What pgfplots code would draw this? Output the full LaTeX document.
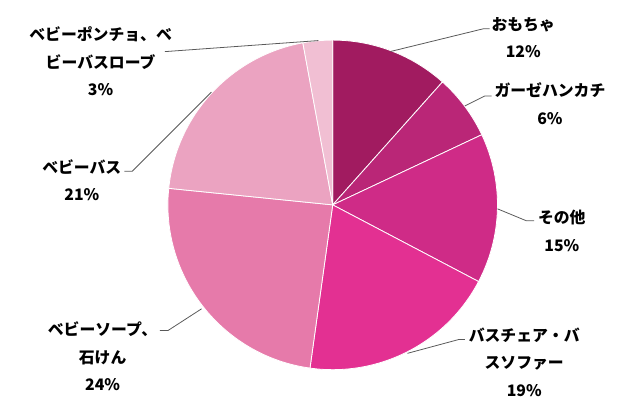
\documentclass[border=0pt]{standalone}
\usepackage{fontspec}
\usepackage{pgfplots}
\usepackage{pgfplotstable}
\pgfplotsset{compat=1.18}
\newfontfamily\jp{Noto Sans CJK JP}

\definecolor{c0}{HTML}{A11B60}
\definecolor{c1}{HTML}{BA2677}
\definecolor{c2}{HTML}{CF2B87}
\definecolor{c3}{HTML}{E33092}
\definecolor{c4}{HTML}{E67AAA}
\definecolor{c5}{HTML}{EBA3C1}
\definecolor{c6}{HTML}{F1BFD3}
\definecolor{leader}{HTML}{595959}

% share of each slice (%), clockwise from 12 o'clock
\pgfplotstableread{
value
11.6
6.4
14.7
19.5
24.4
20.5
2.9
}\piedata

\begin{document}
% start / end angle of each wedge
\xdef\cum{0}
\pgfplotsforeachungrouped \i in {0,...,6}{%
  \pgfplotstablegetelem{\i}{value}\of\piedata
  \pgfmathsetmacro\aS{90-3.6*\cum}%
  \pgfmathsetmacro\cumnew{\cum+\pgfplotsretval}%
  \pgfmathsetmacro\aE{90-3.6*\cumnew}%
  \expandafter\xdef\csname aS\i\endcsname{\aS}%
  \expandafter\xdef\csname aE\i\endcsname{\aE}%
  \xdef\cum{\cumnew}%
}
\begin{tikzpicture}[
  lbl/.style={align=center, font=\jp\bfseries\fontsize{16}{28}\selectfont, text=black},
  ldr/.style={leader, line width=0.8pt},
]
\begin{axis}[
  name=ax,
  hide axis,
  scale only axis,
  width=640pt, height=408pt,
  xmin=0, xmax=640, ymin=0, ymax=408,
  y dir=reverse,
  clip=false,
]
\pgfplotsinvokeforeach{0,...,6}{
  \filldraw[fill=c#1, draw=white, line width=0.8pt]
    (axis cs:329.5,207) -- ++(\csname aS#1\endcsname:166.5pt)
    arc[start angle=\csname aS#1\endcsname, end angle=\csname aE#1\endcsname, radius=166.5pt] -- cycle;
}
% leader lines
\draw[ldr] (axis cs:388,52) -- (axis cs:482,29) -- (axis cs:488,29);
\draw[ldr] (axis cs:463,107) -- (axis cs:483,97) -- (axis cs:490,97);
\draw[ldr] (axis cs:496,211) -- (axis cs:525,223) -- (axis cs:533,223);
\draw[ldr] (axis cs:405,357) -- (axis cs:457,343) -- (axis cs:463,343);
\draw[ldr] (axis cs:197,312) -- (axis cs:163,334) -- (axis cs:155,334);
\draw[ldr] (axis cs:207,93) -- (axis cs:127,173) -- (axis cs:119,173);
\draw[ldr] (axis cs:315,41) -- (axis cs:162,52) -- (axis cs:160,52);
% labels
\node[lbl] at (axis cs:522,38) {おもちゃ\\12\%};
\node[lbl] at (axis cs:549,105) {ガーゼハンカチ\\6\%};
\node[lbl] at (axis cs:561,233) {その他\\15\%};
\node[lbl] at (axis cs:523,366) {バスチェア・バ\\スソファー\\19\%};
\node[lbl] at (axis cs:97,360) {ベビーソープ、\\石けん\\24\%};
\node[lbl] at (axis cs:76,182) {ベビーバス\\21\%};
\node[lbl] at (axis cs:95,62) {ベビーポンチョ、ベ\\ビーバスローブ\\3\%};
\end{axis}
\pgfresetboundingbox
\path[use as bounding box] (ax.south west) rectangle (ax.north east);
\end{tikzpicture}
\end{document}
